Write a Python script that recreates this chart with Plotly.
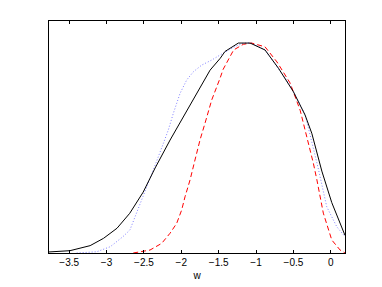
import plotly.graph_objects as go

# Black solid curve
black_w = [-3.77, -3.49, -3.22, -3.04, -2.86, -2.69, -2.51, -2.35, -2.15, -2.0, -1.88, -1.79,
           -1.615, -1.48, -1.415, -1.237, -1.08, -0.88, -0.70, -0.5, -0.344, -0.254, -0.12, 0.013, 0.19]
black_p = [0.005, 0.011, 0.035, 0.07, 0.118, 0.189, 0.29, 0.405, 0.538, 0.63, 0.705, 0.76,
           0.871, 0.927, 0.96, 1.0, 1.0, 0.967, 0.88, 0.768, 0.657, 0.57, 0.39, 0.24, 0.084]

# Red dashed curve
red_w = [-2.643, -2.419, -2.262, -2.151, -2.062, -1.995, -1.95, -1.883, -1.817, -1.75, -1.683,
         -1.593, -1.482, -1.44, -1.30, -1.17, -1.06, -0.88, -0.72, -0.545, -0.41, -0.32, -0.233,
         -0.187, -0.10, 0.013, 0.125, 0.19]
red_p = [0.0, 0.014, 0.046, 0.094, 0.141, 0.205, 0.268, 0.348, 0.443, 0.538, 0.618,
         0.729, 0.832, 0.875, 0.967, 0.994, 1.0, 0.982, 0.91, 0.81, 0.68, 0.554, 0.427,
         0.35, 0.19, 0.062, 0.014, 0.0]

# Blue dotted curve
blue_w = [-3.4, -3.13, -2.95, -2.78, -2.687, -2.51, -2.375, -2.24, -2.174, -2.107, -2.017, -1.928,
          -1.839, -1.727, -1.593, -1.482, -1.30, -1.17, -1.06, -0.88, -0.70, -0.545, -0.344,
          -0.166, -0.054, 0.08, 0.19]
blue_p = [0.0, 0.006, 0.03, 0.078, 0.11, 0.268, 0.395, 0.522, 0.586, 0.665, 0.76, 0.824,
          0.863, 0.895, 0.919, 0.943, 0.98, 1.0, 1.0, 0.967, 0.88, 0.8, 0.66,
          0.40, 0.22, 0.125, 0.078]

tick_vals = [-3.5, -3, -2.5, -2, -1.5, -1, -0.5, 0]
tick_text = ["\u22123.5", "\u22123", "\u22122.5", "\u22122", "\u22121.5", "\u22121", "\u22120.5", "0"]

fig = go.Figure()
fig.add_trace(go.Scatter(x=blue_w, y=blue_p, mode="lines",
                         line=dict(color="#7f7fff", width=1, dash="1px,2px")))
fig.add_trace(go.Scatter(x=red_w, y=red_p, mode="lines",
                         line=dict(color="red", width=1, dash="5px,3px")))
fig.add_trace(go.Scatter(x=black_w, y=black_p, mode="lines",
                         line=dict(color="black", width=1)))

fig.update_layout(
    width=382, height=287,
    margin=dict(l=41, r=45, t=13, b=42),
    paper_bgcolor="white", plot_bgcolor="white",
    showlegend=False,
    font=dict(family="Liberation Sans, Arial, sans-serif", size=10, color="black"),
    xaxis=dict(range=[-3.77, 0.19], tickvals=tick_vals, ticktext=tick_text,
               ticks="inside", ticklen=3, tickcolor="black", mirror="allticks",
               showline=True, linecolor="black", linewidth=1, showgrid=False,
               zeroline=False, title=dict(text="w", standoff=4, font=dict(size=10))),
    yaxis=dict(range=[0, 1.105], showticklabels=False, ticks="", mirror=True,
               showline=True, linecolor="black", linewidth=1, showgrid=False,
               zeroline=False),
)

fig.write_html("out.html")
